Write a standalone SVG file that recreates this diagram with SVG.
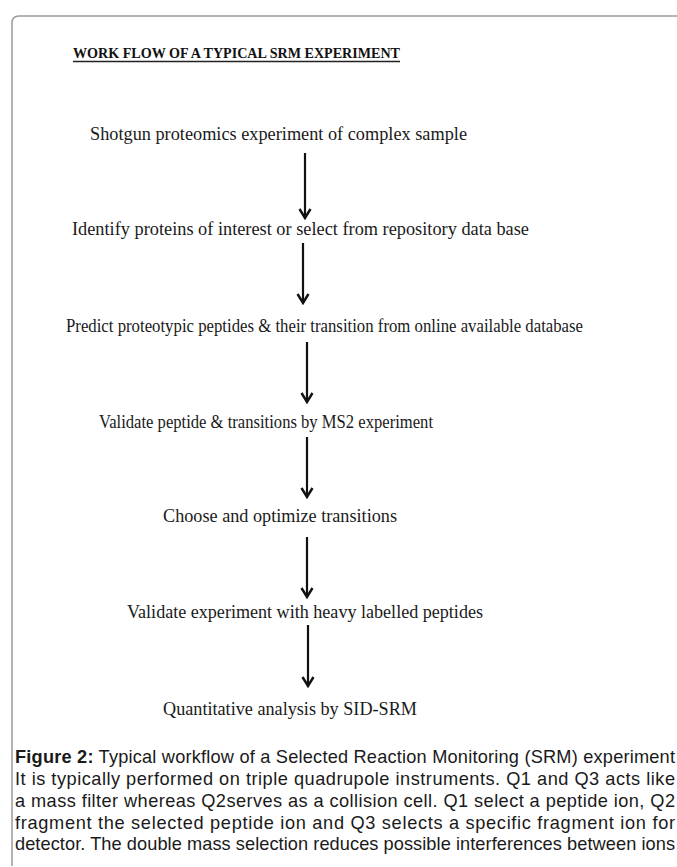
<svg xmlns="http://www.w3.org/2000/svg" width="677" height="867" viewBox="0 0 677 867">
<style>
.step{font-family:"Liberation Serif","Times New Roman",serif;font-size:18px;fill:#1a1a1a}
.title{font-family:"Liberation Serif","Times New Roman",serif;font-size:15px;font-weight:bold;fill:#111}
.cap{font-family:"Liberation Sans",Arial,sans-serif;font-size:18.2px;fill:#1a1a1a}
.arrow{stroke:#111;stroke-width:2.2;fill:none}
</style>
<defs>
<marker id="head" viewBox="0 0 12 14" refX="10" refY="7" markerWidth="12" markerHeight="14" markerUnits="userSpaceOnUse" orient="auto">
<path d="M1,1.5 L10,7 L1,12.5" fill="none" stroke="#111" stroke-width="2.4"/>
</marker>
</defs>
<rect width="677" height="867" fill="#fff"/>
<path d="M12,866 L12,23 Q12,16 19,16 L677,16" fill="none" stroke="#9a9a9a" stroke-width="1.5"/>
<g id="title">
<text class="title" x="73" y="58" textLength="327" lengthAdjust="spacingAndGlyphs">WORK FLOW OF A TYPICAL SRM EXPERIMENT</text>
<line x1="73" y1="61.5" x2="400" y2="61.5" stroke="#222" stroke-width="1.3"/>
</g>
<g id="n1"><text class="step" x="90" y="140" textLength="377" lengthAdjust="spacingAndGlyphs">Shotgun proteomics experiment of complex sample</text></g>
<g id="n2"><text class="step" x="72" y="235" textLength="457" lengthAdjust="spacingAndGlyphs">Identify proteins of interest or select from repository data base</text></g>
<g id="n3"><text class="step" x="66" y="332" textLength="517" lengthAdjust="spacingAndGlyphs">Predict proteotypic peptides &amp; their transition from online available database</text></g>
<g id="n4"><text class="step" x="99" y="428" textLength="334" lengthAdjust="spacingAndGlyphs">Validate peptide &amp; transitions by MS2 experiment</text></g>
<g id="n5"><text class="step" x="163" y="522" textLength="234" lengthAdjust="spacingAndGlyphs">Choose and optimize transitions</text></g>
<g id="n6"><text class="step" x="127" y="618" textLength="356" lengthAdjust="spacingAndGlyphs">Validate experiment with heavy labelled peptides</text></g>
<g id="n7"><text class="step" x="163" y="715" textLength="254" lengthAdjust="spacingAndGlyphs">Quantitative analysis by SID-SRM</text></g>
<g id="connectors">
<line class="arrow" x1="305" y1="153" x2="305" y2="218" marker-end="url(#head)"/>
<line class="arrow" x1="303" y1="243" x2="303" y2="303" marker-end="url(#head)"/>
<line class="arrow" x1="307" y1="342" x2="307" y2="402" marker-end="url(#head)"/>
<line class="arrow" x1="307" y1="437" x2="307" y2="497" marker-end="url(#head)"/>
<line class="arrow" x1="307" y1="537" x2="307" y2="597" marker-end="url(#head)"/>
<line class="arrow" x1="308" y1="625" x2="308" y2="686" marker-end="url(#head)"/>
</g>
<g id="caption">
<text class="cap" x="15" y="763" textLength="660" lengthAdjust="spacing"><tspan font-weight="bold">Figure 2:</tspan> Typical workflow of a Selected Reaction Monitoring (SRM) experiment</text>
<text class="cap" x="15" y="785" textLength="660" lengthAdjust="spacing">It is typically performed on triple quadrupole instruments. Q1 and Q3 acts like</text>
<text class="cap" x="15" y="807" textLength="660" lengthAdjust="spacing">a mass filter whereas Q2serves as a collision cell. Q1 select a peptide ion, Q2</text>
<text class="cap" x="15" y="829" textLength="660" lengthAdjust="spacing">fragment the selected peptide ion and Q3 selects a specific fragment ion for</text>
<text class="cap" x="15" y="850" textLength="660" lengthAdjust="spacing">detector. The double mass selection reduces possible interferences between ions</text>
</g>
</svg>
